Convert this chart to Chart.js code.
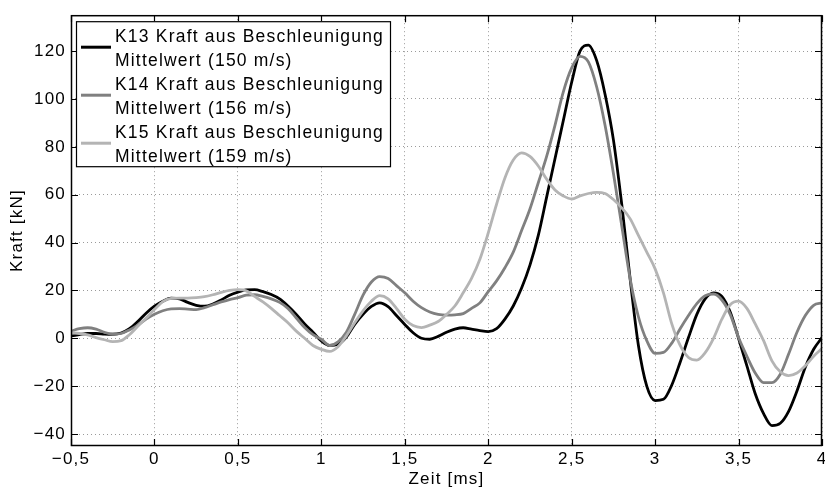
<!DOCTYPE html>
<html>
<head>
<meta charset="utf-8">
<script src="https://cdn.jsdelivr.net/npm/chart.js@4.4.1/dist/chart.umd.min.js"></script>
<style>
  html, body { margin: 0; padding: 0; background: #fff; }
  #wrap { width: 825px; height: 490px; position: relative; }
</style>
</head>
<body>
<div id="wrap"><canvas id="chart"></canvas></div>
<script>
// Zeit [ms]
const times = [
  -0.5, -0.45, -0.4, -0.35, -0.3, -0.25, -0.2, -0.15, -0.1, -0.05,
  0, 0.05, 0.1, 0.15, 0.2, 0.25, 0.3, 0.35, 0.4, 0.45,
  0.5, 0.55, 0.6, 0.65, 0.7, 0.75, 0.8, 0.85, 0.9, 0.95,
  1, 1.05, 1.1, 1.15, 1.2, 1.25, 1.3, 1.35, 1.4, 1.45,
  1.5, 1.55, 1.6, 1.65, 1.7, 1.75, 1.8, 1.85, 1.9, 1.95,
  2, 2.05, 2.1, 2.15, 2.2, 2.25, 2.3, 2.35, 2.4, 2.45,
  2.5, 2.55, 2.6, 2.65, 2.7, 2.75, 2.8, 2.85, 2.9, 2.95,
  3, 3.05, 3.1, 3.15, 3.2, 3.25, 3.3, 3.35, 3.4, 3.45,
  3.5, 3.55, 3.6, 3.65, 3.7, 3.75, 3.8, 3.85, 3.9, 3.95,
  4
];

// Kraft [kN]
const k13 = [
  1, 1.5, 2, 2, 1.8, 1.7, 2.2, 4, 7, 10.5,
  13.4, 15.5, 16.8, 16.5, 15, 13.8, 13.4, 14.3, 16, 18,
  19.3, 20.2, 20.3, 19.5, 18.3, 16.5, 13.5, 10, 6, 2.5,
  -1.1, -3, -2.5, 0.5, 5.8, 10, 13.3, 14.8, 13.2, 9.5,
  5.8, 2.3, 0, -0.4, 0.8, 2.5, 3.8, 4.4, 3.8, 3.2,
  2.8, 4, 8, 13.5, 21, 30.6, 43, 59, 75, 91,
  107, 120, 122.5, 116, 102, 83, 56, 25, -3, -20,
  -26, -25.5, -19.5, -10, 0.3, 10, 16.5, 19, 17.5, 11,
  0, -11.5, -23.2, -31.5, -36.5, -35.5, -30.5, -22, -12.1, -4.6,
  0.3
];
const k14 = [
  3, 4, 4.4, 3.8, 2.5, 1.7, 2, 3.5, 5.5, 8,
  10, 11.5, 12.3, 12.4, 12.2, 12, 12.8, 14, 15.2, 16.2,
  17, 18, 18.2, 17.5, 16.5, 15, 12.5, 8.5, 4.5, 1.5,
  -0.4, -3, -1.5, 2.5, 10, 18, 23.5, 25.8, 25, 22,
  19, 15.5, 12.8, 11, 10, 9.7, 9.8, 10.3, 12.5, 14.8,
  19.5, 24, 29.5, 36, 45, 54, 65, 76, 89, 103,
  113, 117.8, 115.5, 105, 89, 69, 47, 25, 9, -1,
  -6.3, -5.9, -2, 4, 9.5, 14.5, 17.8, 18.5, 16, 10,
  0.3, -7.5, -14.5, -18.5, -18.5, -15, -6.6, 2.5, 9.5, 13.8,
  14.8
];
const k15 = [
  2.3, 2, 1.4, 0.3, -0.6, -1.4, -1, 1.5, 5, 8.5,
  12, 15.3, 16.7, 16.8, 16.8, 17, 17.4, 18.2, 19.2, 20,
  20.3, 19.8, 17.5, 15.2, 12.5, 9.5, 6.5, 3, 0, -3,
  -4.6, -5.5, -3.5, 1, 6.5, 11.5, 15.5, 17.8, 16.5, 12.5,
  8, 5.3, 4.5, 5.5, 7, 10, 13.5, 19, 25, 33,
  44, 56, 67, 74.5, 77.5, 76, 72, 66.5, 62, 59.5,
  58.2, 59.5, 60.5, 61, 60.5, 58, 54.5, 50, 43, 36,
  29, 19, 6, -3, -8, -9.1, -6, 0, 8, 14,
  15.5, 12.5, 6, -1, -9.4, -14, -15.6, -14.5, -11.5, -7.5,
  -4.3
];

const seriesLabels = [
  ['K13 Kraft aus Beschleunigung', 'Mittelwert (150 m/s)'],
  ['K14 Kraft aus Beschleunigung', 'Mittelwert (156 m/s)'],
  ['K15 Kraft aus Beschleunigung', 'Mittelwert (159 m/s)']
];
const seriesColors = ['#000000', '#808080', '#b4b4b4'];

const xTicks = [-0.5, 0, 0.5, 1, 1.5, 2, 2.5, 3, 3.5, 4];
const yTicks = [-40, -20, 0, 20, 40, 60, 80, 100, 120];

const FONT = '"Liberation Sans", Arial, Helvetica, sans-serif';
const SPACING = '1.2px';

// MATLAB style number: comma decimal, real minus sign
function fmt(v) {
  const s = String(Math.abs(v)).replace('.', ',');
  return v < 0 ? '\u2212' + s : s;
}

function toPoints(ys) {
  return times.map((t, i) => ({ x: t, y: ys[i] }));
}

// the reference text is set a little wider than plain Helvetica
const wideText = {
  id: 'wideText',
  beforeDraw(chart) {
    chart.ctx.letterSpacing = SPACING;
  }
};

// box round the plot with inward tick marks on all four sides
const frameTicks = {
  id: 'frameTicks',
  afterDatasetsDraw(chart) {
    const { ctx, chartArea: a, scales: { x, y } } = chart;
    ctx.save();
    ctx.strokeStyle = '#000';
    ctx.lineWidth = 1.2;
    ctx.beginPath();
    x.ticks.forEach(t => {
      const px = Math.round(x.getPixelForValue(t.value)) + 0.5;
      ctx.moveTo(px, a.bottom); ctx.lineTo(px, a.bottom - 7);
      ctx.moveTo(px, a.top); ctx.lineTo(px, a.top + 7);
    });
    y.ticks.forEach(t => {
      const py = Math.round(y.getPixelForValue(t.value)) + 0.5;
      ctx.moveTo(a.left, py); ctx.lineTo(a.left + 7, py);
      ctx.moveTo(a.right, py); ctx.lineTo(a.right - 7, py);
    });
    ctx.stroke();
    ctx.lineWidth = 1.5;
    ctx.strokeRect(a.left + 0.5, a.top + 0.5, a.right - a.left - 1, a.bottom - a.top - 1);
    ctx.restore();
  }
};

// legend box in the upper left corner
const boxLegend = {
  id: 'boxLegend',
  afterDraw(chart) {
    const { ctx, chartArea: a } = chart;
    const left = a.left + 5, top = a.top + 6, w = 314, h = 145;
    ctx.save();
    ctx.letterSpacing = SPACING;
    ctx.fillStyle = '#fff';
    ctx.fillRect(left, top, w, h);
    ctx.strokeStyle = '#000';
    ctx.lineWidth = 1.2;
    ctx.strokeRect(left + 0.5, top + 0.5, w, h);
    ctx.font = '17.5px ' + FONT;
    ctx.textBaseline = 'alphabetic';
    seriesLabels.forEach((lines, i) => {
      const y0 = top + 2 + i * 48;
      ctx.strokeStyle = seriesColors[i];
      ctx.lineWidth = 3;
      ctx.beginPath();
      ctx.moveTo(left + 5, y0 + 24);
      ctx.lineTo(left + 35, y0 + 24);
      ctx.stroke();
      ctx.fillStyle = '#000';
      lines.forEach((line, j) => {
        ctx.fillText(line, left + 39, y0 + 19 + j * 24);
      });
    });
    ctx.restore();
  }
};

const datasets = [k13, k14, k15].map((ys, i) => ({
  label: seriesLabels[i].join(' '),
  data: toPoints(ys),
  borderColor: seriesColors[i],
  borderWidth: 2.8,
  pointRadius: 0,
  fill: false,
  cubicInterpolationMode: 'monotone',
  order: 3 - i
}));

new Chart(document.getElementById('chart'), {
  type: 'line',
  data: { datasets: datasets },
  options: {
    responsive: true,
    maintainAspectRatio: false,
    animation: false,
    layout: { padding: { top: 10, right: 3, left: 0, bottom: 0 } },
    plugins: {
      legend: { display: false },
      tooltip: { enabled: false }
    },
    scales: {
      x: {
        type: 'linear',
        min: -0.5,
        max: 4,
        afterBuildTicks: s => { s.ticks = xTicks.map(v => ({ value: v })); },
        afterFit: s => { s.height = 44; s.paddingLeft = 0; s.paddingRight = 0; },
        grid: { color: '#9a9a9a', drawTicks: false, lineWidth: 1 },
        border: { display: false, dash: [1, 3] },
        ticks: {
          color: '#000', padding: 3, maxRotation: 0, autoSkip: false,
          font: { family: FONT, size: 17 },
          callback: v => fmt(v)
        },
        title: {
          display: true, text: 'Zeit [ms]', color: '#000',
          font: { family: FONT, size: 17 }, padding: { top: 0, bottom: 0 }
        }
      },
      y: {
        min: -45,
        max: 135,
        afterBuildTicks: s => { s.ticks = yTicks.map(v => ({ value: v })); },
        afterFit: s => { s.width = 71; },
        grid: { color: '#9a9a9a', drawTicks: false, lineWidth: 1 },
        border: { display: false, dash: [1, 3] },
        ticks: {
          color: '#000', padding: 5, autoSkip: false,
          font: { family: FONT, size: 17 },
          callback: v => fmt(v)
        },
        title: {
          display: true, text: 'Kraft [kN]', color: '#000',
          font: { family: FONT, size: 17 }, padding: { top: 7, bottom: 0 }
        }
      }
    }
  },
  plugins: [wideText, frameTicks, boxLegend]
});
</script>
</body>
</html>
